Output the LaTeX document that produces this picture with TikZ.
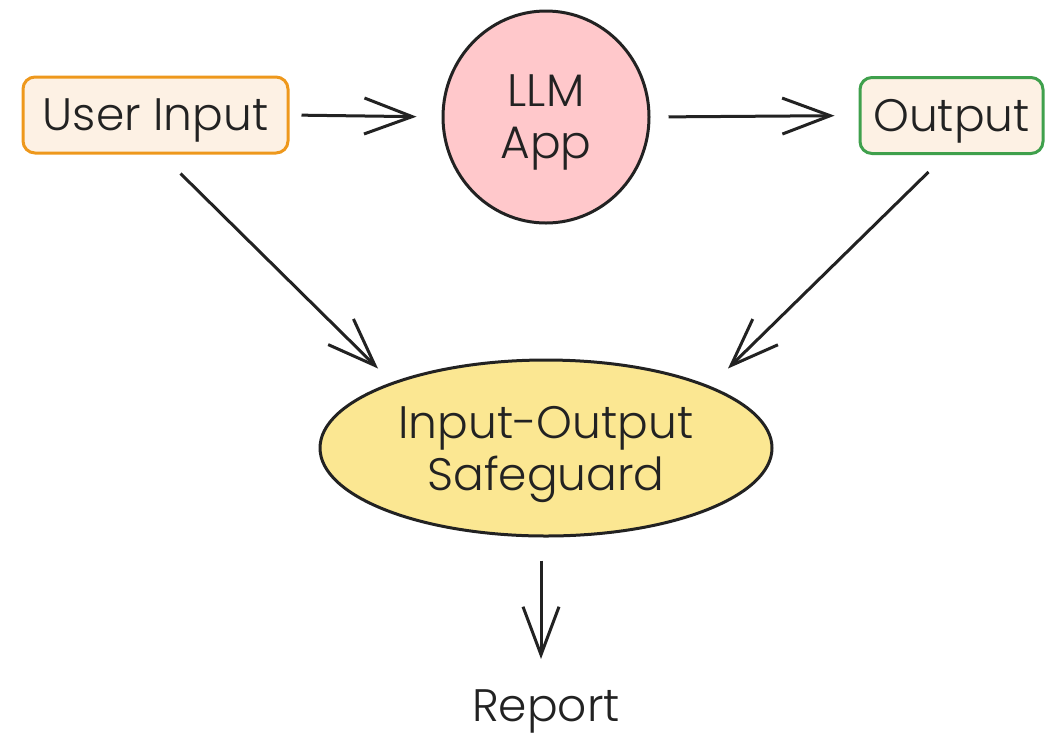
\documentclass[tikz,border=0pt]{standalone}
\usepackage{fontspec}
\setmainfont{Poppins Light}
\usetikzlibrary{arrows.meta,shapes.geometric}
\definecolor{boxfill}{HTML}{FDF1E4}
\definecolor{uiline}{HTML}{EE981C}
\definecolor{outline}{HTML}{3FA04C}
\definecolor{llmfill}{HTML}{FFC8CB}
\definecolor{iofill}{HTML}{FBE792}
\definecolor{ink}{HTML}{222222}
\begin{document}
\begin{tikzpicture}[x=1pt,y=-1pt,
        >={Straight Barb[length=48pt,width=36pt,line width=3pt]},
        txt/.style={font=\fontsize{45.5}{52}\selectfont,text=ink,align=center,text depth=0pt},
        box/.style={txt,draw,line width=3pt,fill=boxfill,rounded corners=12pt,minimum height=76pt,inner sep=0pt},
        arr/.style={->,draw=ink,line width=3pt}]
        \useasboundingbox (0,0) rectangle (1057,740);
        \node[box,draw=uiline,minimum width=265pt] (ui) at (155.5,115) {User Input};
        \node[txt,ellipse,draw=ink,line width=3pt,fill=llmfill,minimum width=206pt,minimum height=212pt,inner sep=0pt] (llm) at (546,117) {LLM\\App};
        \node[box,draw=outline,minimum width=183pt] (out) at (951.5,115.5) {Output};
        \node[txt,ellipse,draw=ink,line width=3pt,fill=iofill,minimum width=452pt,minimum height=176pt,inner sep=0pt] (io) at (546,448) {Input-Output\\Safeguard};
        \node[txt,anchor=base,inner sep=0pt] (rep) at (546,721) {Report};
        \draw[arr,shorten <=12pt,shorten >=25pt] (ui.east) -- (llm.west);
        \draw[arr,shorten <=18pt,shorten >=24pt] (llm.east) -- (out.west);
        \draw[arr] ([xshift=25pt,yshift=-19pt]ui.south) -- ([xshift=-168pt,yshift=-10pt]io.north);
        \draw[arr] ([xshift=-23pt,yshift=-17pt]out.south) -- ([xshift=182pt,yshift=-10pt]io.north);
        \draw[arr,shorten >=30pt] ([xshift=-5pt,yshift=-23pt]io.south) -- ([xshift=-5pt]rep.north);
\end{tikzpicture}
\end{document}
